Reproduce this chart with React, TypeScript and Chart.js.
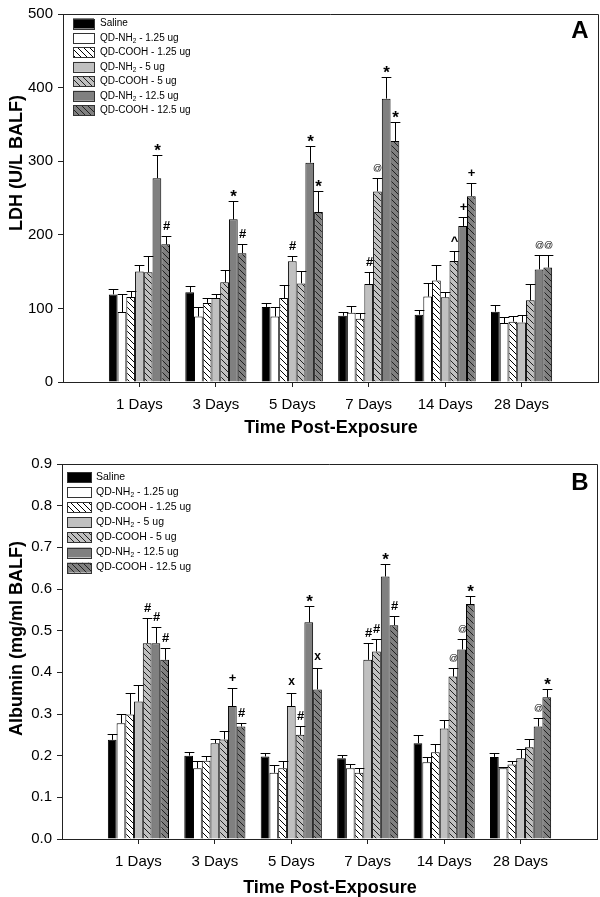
import React, { useEffect, useRef } from 'react';
import { Chart, registerables } from 'chart.js';
Chart.register(...registerables);

const FONT = '"Liberation Sans", Arial, Helvetica, sans-serif';

// ---------- data ----------
const categories = ['1 Days', '3 Days', '5 Days', '7 Days', '14 Days', '28 Days'];
const seriesLabels = [
  'Saline',
  'QD-NH₂ - 1.25 ug',
  'QD-COOH - 1.25 ug',
  'QD-NH₂ - 5 ug',
  'QD-COOH - 5 ug',
  'QD-NH₂ - 12.5 ug',
  'QD-COOH - 12.5 ug',
];

// Panel A: LDH (U/L BALF)
const ldhMeans = [
  [119, 122, 102, 90, 91.5, 95.5],
  [95, 89, 89, 94, 116, 80],
  [115.5, 107.5, 114, 86, 138, 82],
  [150, 114, 164, 133, 115, 81],
  [149, 135.5, 134, 259, 164.5, 111],
  [277, 221, 298, 385, 212, 153],
  [187, 175, 231, 327.5, 252.5, 155.5],
];
const ldhErrors = [
  [7, 9, 5, 5, 6, 9],
  [24, 13, 13, 9, 19, 8],
  [8.5, 6, 17.5, 8, 21.5, 8],
  [9.5, 6, 7.5, 17, 7, 10.5],
  [22, 16.5, 17, 18, 14, 22],
  [31, 25, 22, 30, 12.5, 20],
  [12, 13, 29, 25.5, 18, 16.5],
];
const ldhMarks = [
  ['', '', '', '', '', ''],
  ['', '', '', '', '', ''],
  ['', '', '', '', '', ''],
  ['', '', '#', '#', '', ''],
  ['', '', '', '@', '^', ''],
  ['*', '*', '*', '*', '+', '@'],
  ['#', '#', '*', '*', '+', '@'],
];
const ldhTicks = [0, 100, 200, 300, 400, 500];

// Panel B: Albumin (mg/ml BALF)
const albMeans = [
  [0.238, 0.2, 0.198, 0.194, 0.23, 0.197],
  [0.278, 0.17, 0.159, 0.17, 0.184, 0.17],
  [0.299, 0.188, 0.17, 0.159, 0.208, 0.179],
  [0.33, 0.23, 0.319, 0.43, 0.265, 0.194],
  [0.47, 0.239, 0.25, 0.45, 0.39, 0.22],
  [0.47, 0.319, 0.52, 0.63, 0.455, 0.27],
  [0.43, 0.27, 0.359, 0.513, 0.564, 0.34],
];
const albErrors = [
  [0.015, 0.01, 0.008, 0.008, 0.02, 0.01],
  [0.021, 0.017, 0.019, 0.009, 0.013, 0.004],
  [0.051, 0.011, 0.018, 0.011, 0.019, 0.008],
  [0.04, 0.009, 0.031, 0.04, 0.02, 0.021],
  [0.06, 0.021, 0.021, 0.03, 0.02, 0.02],
  [0.04, 0.043, 0.04, 0.03, 0.024, 0.02],
  [0.029, 0.009, 0.051, 0.022, 0.019, 0.019],
];
const albMarks = [
  ['', '', '', '', '', ''],
  ['', '', '', '', '', ''],
  ['', '', '', '', '', ''],
  ['', '', 'x', '#', '', ''],
  ['#', '', '#', '#', '@', ''],
  ['#', '+', '*', '*', '@', '@'],
  ['#', '#', 'x', '#', '*', '*'],
];
const albTicks = [0, 0.1, 0.2, 0.3, 0.4, 0.5, 0.6, 0.7, 0.8, 0.9];

// ---------- styles ----------
function hatch(bg: string, fg: string) {
  const s = 6;
  const c = document.createElement('canvas');
  c.width = s;
  c.height = s;
  const g = c.getContext('2d')!;
  g.fillStyle = bg;
  g.fillRect(0, 0, s, s);
  g.strokeStyle = fg;
  g.lineWidth = 1;
  g.beginPath();
  g.moveTo(-1, -1);
  g.lineTo(s + 1, s + 1);
  g.moveTo(-1, s - 1);
  g.lineTo(1, s + 1);
  g.moveTo(s - 1, -1);
  g.lineTo(s + 1, 1);
  g.stroke();
  return g.createPattern(c, 'repeat') as CanvasPattern;
}

function fills() {
  return [
    '#000000',
    '#ffffff',
    hatch('#ffffff', '#000000'),
    '#c0c0c0',
    hatch('#c0c0c0', '#202020'),
    '#808080',
    hatch('#808080', '#202020'),
  ];
}

type Spec = {
  H: number;
  means: number[][];
  errors: number[][];
  marks: string[][];
  ticks: number[];
  fmt: (v: number) => string;
  yTitle: string;
  area: { left: number; right: number; top: number; bottom: number };
  yTitlePos: [number, number];
  xTitlePos: [number, number];
  letter: string;
  letterPos: [number, number];
  legend: { boxX: number; boxW: number; boxH: number; firstY: number; step: number; textX: number; size: number };
};

function drawLabel(ctx: CanvasRenderingContext2D, text: string, x: number, y: number, size: number) {
  ctx.font = `${size}px ${FONT}`;
  ctx.textAlign = 'left';
  ctx.textBaseline = 'middle';
  ctx.fillStyle = '#000';
  const idx = text.indexOf('₂');
  if (idx < 0) {
    ctx.fillText(text, x, y);
    return;
  }
  const a = text.slice(0, idx);
  const b = text.slice(idx + 1);
  ctx.fillText(a, x, y);
  let cx = x + ctx.measureText(a).width;
  ctx.font = `${size * 0.65}px ${FONT}`;
  ctx.fillText('2', cx, y + 3);
  cx += ctx.measureText('2').width;
  ctx.font = `${size}px ${FONT}`;
  ctx.fillText(b, cx, y);
}

function makeChart(canvas: HTMLCanvasElement, spec: Spec) {
  const bg = fills();
  const labels = ['', ...categories, ''];
  const datasets = seriesLabels.map((lab, i) => ({
    label: lab,
    data: [null, ...spec.means[i], null] as (number | null)[],
    backgroundColor: bg[i] as any,
    borderColor: '#000',
    borderWidth: 1,
    categoryPercentage: 0.8,
    barPercentage: 1.0,
  }));

  const decor = {
    id: 'decor',
    afterDatasetsDraw(chart: any) {
      const ctx: CanvasRenderingContext2D = chart.ctx;
      const ys = chart.scales.y;
      ctx.save();
      ctx.strokeStyle = '#000';
      ctx.lineWidth = 1;
      chart.data.datasets.forEach((ds: any, i: number) => {
        const meta = chart.getDatasetMeta(i);
        meta.data.forEach((el: any, j: number) => {
          const v = ds.data[j];
          if (v == null) return;
          const e = spec.errors[i][j - 1];
          const top = el.y;
          const cap = ys.getPixelForValue(v + e);
          const x = Math.round(el.x) + 0.5;
          const hw = el.width / 2 + 0.5;
          const cy = Math.round(cap) + 0.5;
          ctx.beginPath();
          ctx.moveTo(x, top);
          ctx.lineTo(x, cy);
          ctx.moveTo(x - hw, cy);
          ctx.lineTo(x + hw, cy);
          ctx.stroke();
          const m = spec.marks[i][j - 1];
          if (m) {
            ctx.fillStyle = '#000';
            ctx.textAlign = 'center';
            ctx.textBaseline = 'alphabetic';
            if (m === '*') {
              ctx.font = `bold 17px ${FONT}`;
              ctx.fillText(m, x, cy - 0);
            } else if (m === '@') {
              ctx.font = `9px ${FONT}`;
              ctx.fillText(m, x, cy - 8);
            } else if (m === 'x') {
              ctx.font = `bold 12px ${FONT}`;
              ctx.fillText(m, x, cy - 9);
            } else {
              ctx.font = `bold 13px ${FONT}`;
              ctx.fillText(m, x, cy - 7);
            }
          }
        });
      });
      ctx.restore();
    },
    afterDraw(chart: any) {
      const ctx: CanvasRenderingContext2D = chart.ctx;
      const a = chart.chartArea;
      ctx.save();
      // frame top/right
      ctx.strokeStyle = '#222';
      ctx.lineWidth = 1;
      ctx.beginPath();
      ctx.moveTo(a.left, Math.round(a.top) + 0.5);
      ctx.lineTo(Math.round(a.right) + 0.5, Math.round(a.top) + 0.5);
      ctx.lineTo(Math.round(a.right) + 0.5, a.bottom);
      ctx.stroke();
      // legend
      const L = spec.legend;
      seriesLabels.forEach((lab, i) => {
        const y = L.firstY + i * L.step;
        ctx.fillStyle = bg[i] as any;
        ctx.fillRect(L.boxX, y - L.boxH / 2, L.boxW, L.boxH);
        ctx.strokeStyle = '#333';
        ctx.lineWidth = 1;
        ctx.strokeRect(Math.round(L.boxX) + 0.5, Math.round(y - L.boxH / 2) + 0.5, L.boxW, L.boxH);
        drawLabel(ctx, lab, L.textX, y, L.size);
      });
      // axis titles
      ctx.fillStyle = '#000';
      ctx.font = `bold 18px ${FONT}`;
      ctx.textAlign = 'center';
      ctx.textBaseline = 'middle';
      ctx.fillText('Time Post-Exposure', spec.xTitlePos[0], spec.xTitlePos[1]);
      ctx.save();
      ctx.translate(spec.yTitlePos[0], spec.yTitlePos[1]);
      ctx.rotate(-Math.PI / 2);
      ctx.fillText(spec.yTitle, 0, 0);
      ctx.restore();
      // panel letter
      ctx.font = `bold 24px ${FONT}`;
      ctx.fillText(spec.letter, spec.letterPos[0], spec.letterPos[1]);
      ctx.restore();
    },
  };

  return new Chart(canvas, {
    type: 'bar',
    data: { labels, datasets: datasets as any },
    options: {
      responsive: false,
      animation: false,
      devicePixelRatio: 1,
      layout: { padding: { left: 0, right: 600 - spec.area.right, top: spec.area.top, bottom: 0 } },
      plugins: { legend: { display: false }, tooltip: { enabled: false }, title: { display: false } },
      scales: {
        x: {
          type: 'category',
          offset: false,
          grid: {
            offset: false,
            drawOnChartArea: false,
            drawTicks: true,
            tickLength: 5,
            color: (c: any) => (c.index >= 1 && c.index <= 6 ? '#222' : 'rgba(0,0,0,0)'),
          },
          border: { display: true, color: '#222', width: 1 },
          ticks: { color: '#000', font: { family: FONT, size: 15 }, autoSkip: false, maxRotation: 0, minRotation: 0, padding: 9 },
          afterFit: (s: any) => {
            s.height = spec.H - spec.area.bottom;
            s.paddingLeft = 0;
            s.paddingRight = 0;
          },
        } as any,
        y: {
          min: spec.ticks[0],
          max: spec.ticks[spec.ticks.length - 1],
          afterBuildTicks: (s: any) => {
            s.ticks = spec.ticks.map((v) => ({ value: v }));
          },
          ticks: { color: '#000', font: { family: FONT, size: 15 }, padding: 5, callback: (v: any) => spec.fmt(Number(v)) },
          grid: { drawOnChartArea: false, drawTicks: true, tickLength: 5, color: '#222' },
          border: { display: true, color: '#222', width: 1 },
          afterFit: (s: any) => {
            s.width = spec.area.left;
          },
        } as any,
      },
    },
    plugins: [decor],
  });
}

const specA: Spec = {
  H: 450,
  means: ldhMeans,
  errors: ldhErrors,
  marks: ldhMarks,
  ticks: ldhTicks,
  fmt: (v) => String(Math.round(v)),
  yTitle: 'LDH (U/L BALF)',
  area: { left: 63, right: 598, top: 7, bottom: 382 },
  yTitlePos: [17, 163],
  xTitlePos: [331, 428],
  letter: 'A',
  letterPos: [580, 31],
  legend: { boxX: 73, boxW: 21, boxH: 10, firstY: 23.5, step: 14.45, textX: 100, size: 10 },
};

const specB: Spec = {
  H: 447,
  means: albMeans,
  errors: albErrors,
  marks: albMarks,
  ticks: albTicks,
  fmt: (v) => v.toFixed(1),
  yTitle: 'Albumin (mg/ml BALF)',
  area: { left: 62, right: 597, top: 14, bottom: 389 },
  yTitlePos: [17, 188.5],
  xTitlePos: [330, 438],
  letter: 'B',
  letterPos: [580, 33],
  legend: { boxX: 67, boxW: 24, boxH: 10, firstY: 27, step: 15.1, textX: 96, size: 10.5 },
};

function Panel({ spec, top }: { spec: Spec; top: number }) {
  const ref = useRef<HTMLCanvasElement | null>(null);
  useEffect(() => {
    if (!ref.current) return;
    const ch = makeChart(ref.current, spec);
    return () => ch.destroy();
  }, [spec]);
  return (
    <canvas
      ref={ref}
      width={600}
      height={spec.H}
      style={{ position: 'absolute', left: 0, top, width: 600, height: spec.H, display: 'block' }}
    />
  );
}

export default function App() {
  return (
    <div style={{ position: 'absolute', left: 0, top: 0, width: 600, height: 897, background: '#fff' }}>
      <Panel spec={specA} top={0} />
      <Panel spec={specB} top={450} />
    </div>
  );
}
